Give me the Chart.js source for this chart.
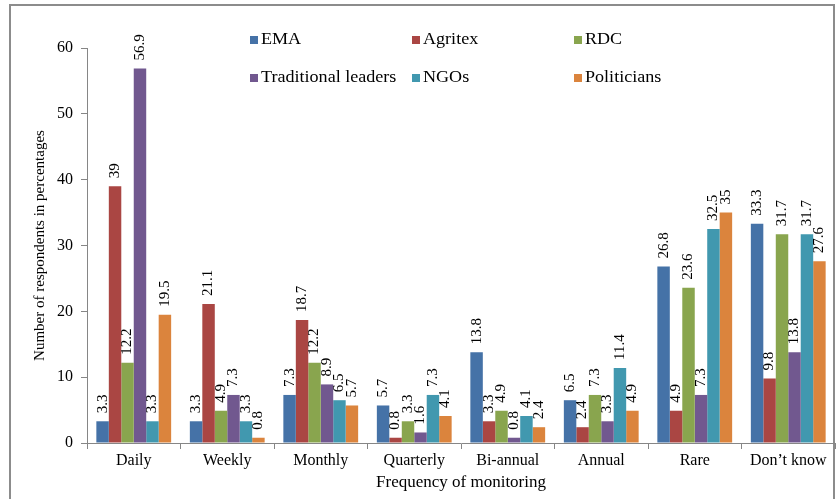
<!DOCTYPE html>
<html>
<head>
<meta charset="utf-8">
<script src="https://cdn.jsdelivr.net/npm/chart.js@4/dist/chart.umd.min.js"></script>
<style>
  body { margin: 0; background: #fff; }
  #wrap { position: relative; width: 839px; height: 499px; }
  #cadre { position: absolute; left: 9px; top: 4px; width: 826px; height: 500px; border: 2px solid #8c8c8c; box-sizing: border-box; }
  canvas { position: absolute; left: 0; top: 0; }
</style>
</head>
<body>
<div id="wrap">
  <div id="cadre"></div>
  <canvas id="graphique" width="839" height="499"></canvas>
</div>
<script>
// ===========================
// Données
// ===========================
const categories = ['Daily', 'Weekly', 'Monthly', 'Quarterly', 'Bi-annual', 'Annual', 'Rare', 'Don\u2019t know'];
const ema        = [3.3, 3.3, 7.3, 5.7, 13.8, 6.5, 26.8, 33.3];
const agritex    = [39, 21.1, 18.7, 0.8, 3.3, 2.4, 4.9, 9.8];
const rdc        = [12.2, 4.9, 12.2, 3.3, 4.9, 7.3, 23.6, 31.7];
const tradLeaders = [56.9, 7.3, 8.9, 1.6, 0.8, 3.3, 7.3, 13.8];
const ngos       = [3.3, 3.3, 6.5, 7.3, 4.1, 11.4, 32.5, 31.7];
const politicians = [19.5, 0.8, 5.7, 4.1, 2.4, 4.9, 35, 27.6];
const yTicks = [0, 10, 20, 30, 40, 50, 60];

const police = "'Liberation Serif', 'Times New Roman', serif";

// ===========================
// Plugin : étiquettes de valeurs + légende dans le graphique
// ===========================
const etiquettes = {
    id: 'etiquettes',
    afterDatasetsDraw(chart) {
        const ctx = chart.ctx;
        ctx.save();
        ctx.fillStyle = '#000';
        ctx.font = '15px ' + police;
        ctx.textAlign = 'left';
        ctx.textBaseline = 'middle';
        chart.data.datasets.forEach((ds, i) => {
            const meta = chart.getDatasetMeta(i);
            meta.data.forEach((bar, j) => {
                ctx.save();
                ctx.translate(bar.x, bar.y - 8);
                ctx.rotate(-Math.PI / 2);
                ctx.fillText(String(ds.data[j]), 0, 0);
                ctx.restore();
            });
        });
        ctx.restore();
    },
    afterDraw(chart) {
        // Légende sur deux lignes, trois colonnes
        const ctx = chart.ctx;
        const colonnes = [250, 412, 574];
        const lignes = [40, 78];
        ctx.save();
        ctx.font = '16px ' + police;
        ctx.textBaseline = 'middle';
        ctx.textAlign = 'left';
        chart.data.datasets.forEach((ds, i) => {
            const x = colonnes[i % 3];
            const y = lignes[Math.floor(i / 3)];
            ctx.fillStyle = ds.backgroundColor;
            ctx.fillRect(x, y - 4, 8, 8);
            ctx.fillStyle = '#000';
            ctx.save();
            ctx.translate(x + 11, y);
            ctx.scale(1.13, 1);   // texte un peu élargi comme l'original
            ctx.fillText(ds.label, 0, 0);
            ctx.restore();
        });
        ctx.restore();
    }
};

// ===========================
// Graphique
// ===========================
const ctxGraph = document.getElementById('graphique').getContext('2d');
const graph = new Chart(ctxGraph, {
    type: 'bar',
    data: {
        labels: categories,
        datasets: [
            { label: 'EMA', data: ema, backgroundColor: '#4572A7' },
            { label: 'Agritex', data: agritex, backgroundColor: '#AA4643' },
            { label: 'RDC', data: rdc, backgroundColor: '#89A54E' },
            { label: 'Traditional leaders', data: tradLeaders, backgroundColor: '#71588F' },
            { label: 'NGOs', data: ngos, backgroundColor: '#4198AF' },
            { label: 'Politicians', data: politicians, backgroundColor: '#DB843D' }
        ]
    },
    options: {
        responsive: false,
        animation: false,
        layout: { padding: { left: 27, top: 48, right: 4, bottom: 0 } },
        datasets: { bar: { categoryPercentage: 0.8, barPercentage: 1.0 } },
        plugins: {
            legend: { display: false },
            tooltip: { enabled: false }
        },
        scales: {
            x: {
                grid: { display: true, drawOnChartArea: false, drawTicks: true, tickLength: 6, color: '#868686', offset: true },
                border: { color: '#868686', width: 1 },
                ticks: { color: '#000', font: { family: police, size: 16 }, padding: 2, maxRotation: 0, autoSkip: false },
                title: { display: true, text: 'Frequency of monitoring', color: '#000', font: { family: police, size: 17 }, padding: { top: 0, bottom: 6 } },
                afterFit(scale) { scale.height = 56; }
            },
            y: {
                min: 0,
                max: 60,
                afterBuildTicks(scale) { scale.ticks = yTicks.map(v => ({ value: v })); },
                grid: { display: true, drawOnChartArea: false, drawTicks: true, tickLength: 6, color: '#868686' },
                border: { color: '#868686', width: 1 },
                ticks: { color: '#000', font: { family: police, size: 16 }, padding: 8 },
                title: { display: true, text: 'Number of respondents in percentages', color: '#000', font: { family: police, size: 15 } },
                afterFit(scale) { scale.width = 60; }
            }
        }
    },
    plugins: [etiquettes]
});
</script>
</body>
</html>
